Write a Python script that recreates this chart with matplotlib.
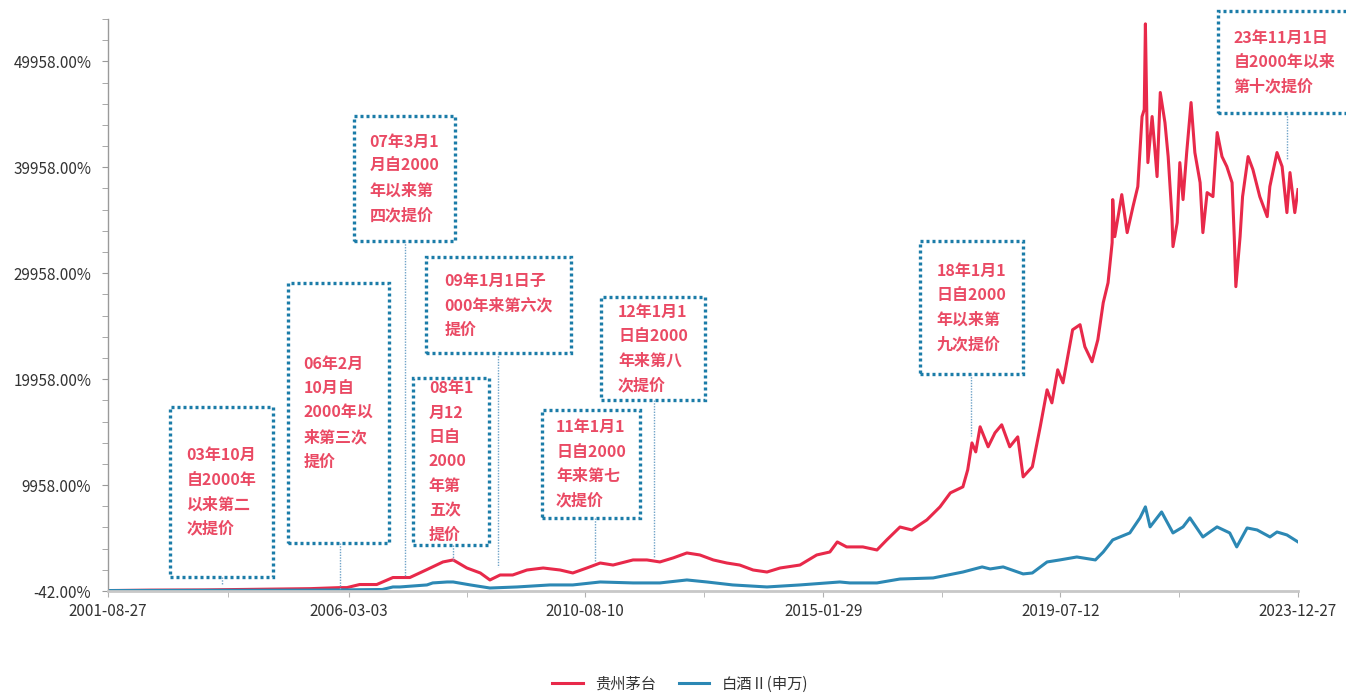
import matplotlib

matplotlib.use("Agg")
import matplotlib.pyplot as plt
import numpy as np
import pandas as pd
from matplotlib.lines import Line2D
from matplotlib.patches import Rectangle

plt.rcParams["font.family"] = ["Noto Sans CJK SC", "DejaVu Sans"]

W, H = 1346, 694
RED = "#E8294A"
BLUE = "#2C88B4"
TXT = "#EA4A64"
BOX = "#1B7CA8"
FG = "#333333"

# 贵州茅台 cumulative return (%)
red_dates = [
    "2001-08-27", "2002-06-15", "2003-06-15", "2004-06-15", "2005-06-15",
    "2006-01-05", "2006-02-20", "2006-05-18", "2006-09-12", "2007-01-01",
    "2007-04-27", "2007-08-22", "2007-12-10", "2008-02-18", "2008-05-22",
    "2008-08-22", "2008-10-27", "2009-01-05", "2009-04-01", "2009-07-08",
    "2009-10-27", "2010-02-20", "2010-05-18", "2010-08-22", "2010-11-22",
    "2011-02-18", "2011-07-05", "2011-10-08", "2012-01-05", "2012-04-05",
    "2012-07-08", "2012-10-05", "2013-01-05", "2013-04-08", "2013-07-05",
    "2013-10-05", "2014-01-08", "2014-04-08", "2014-08-22", "2014-12-15",
    "2015-03-15", "2015-05-05", "2015-07-08", "2015-10-27", "2016-02-01",
    "2016-04-08", "2016-07-08", "2016-09-27", "2017-01-08", "2017-04-08",
    "2017-06-18", "2017-09-12", "2017-10-15", "2017-11-13", "2017-12-09",
    "2018-01-08", "2018-03-04", "2018-04-20", "2018-06-05", "2018-07-30",
    "2018-09-23", "2018-10-30", "2019-01-01", "2019-02-24", "2019-04-12",
    "2019-05-15", "2019-06-24", "2019-07-30", "2019-10-04", "2019-11-24",
    "2019-12-27", "2020-02-14", "2020-03-25", "2020-05-01", "2020-06-03",
    "2020-07-01", "2020-07-05", "2020-07-19", "2020-09-05", "2020-10-12",
    "2020-11-21", "2020-12-24", "2021-01-22", "2021-02-06", "2021-02-14",
    "2021-02-24", "2021-03-03", "2021-04-01", "2021-04-20", "2021-05-05",
    "2021-05-27", "2021-06-28", "2021-07-20", "2021-08-15", "2021-08-22",
    "2021-09-20", "2021-10-08", "2021-10-30", "2021-11-24", "2021-12-24",
    "2022-01-19", "2022-02-24", "2022-03-15", "2022-04-13", "2022-05-23",
    "2022-06-21", "2022-07-24", "2022-08-26", "2022-10-01", "2022-10-16",
    "2022-10-27", "2022-11-25", "2022-12-12", "2023-01-19", "2023-02-21",
    "2023-04-09", "2023-05-30", "2023-06-17", "2023-08-05", "2023-09-09",
    "2023-10-12", "2023-11-02", "2023-12-05", "2023-12-27",
]
red_vals = [
    0, 40, 60, 120, 180,
    280, 280, 570, 570, 1230,
    1230, 1980, 2700, 2890, 2130,
    1660, 1000, 1470, 1470, 1940,
    2130, 1940, 1660, 2130, 2600,
    2410, 2890, 2890, 2700, 3080,
    3550, 3360, 2890, 2600, 2410,
    1940, 1750, 2130, 2410, 3360,
    3640, 4590, 4120, 4120, 3830,
    4780, 6000, 5720, 6670, 7900,
    9220, 9790, 11400, 13940, 13090,
    15460, 13570, 14890, 15650, 13570,
    14510, 10730, 11680, 15460, 18950,
    17720, 20840, 19610, 24620, 25100,
    23020, 21600, 23680, 27180, 29060,
    32840, 36910, 33410, 37380, 33790,
    36250, 38140, 44750, 45410, 53500,
    44750, 40400, 44750, 41630, 39080,
    47020, 44180, 40970, 35300, 32470,
    34740, 40400, 36910, 41350, 46070,
    41350, 38510, 33790, 37570, 37190,
    43240, 40970, 40030, 38510, 33410,
    28690, 33410, 37190, 40970, 39740,
    37190, 35300, 38140, 41350, 40030,
    35680, 39460, 35680, 37850,
]

# 白酒Ⅱ(申万) cumulative return (%)
blue_dates = [
    "2001-08-27", "2003-06-15", "2005-06-15", "2006-01-05", "2006-10-20",
    "2007-01-01", "2007-02-18", "2007-08-22", "2007-10-01", "2008-01-08",
    "2008-02-18", "2008-06-15", "2008-10-27", "2009-05-01", "2009-12-12",
    "2010-05-18", "2010-11-22", "2011-07-05", "2012-01-05", "2012-07-08",
    "2012-11-22", "2013-05-18", "2014-01-08", "2014-08-22", "2015-05-22",
    "2015-07-30", "2016-02-01", "2016-07-08", "2017-02-20", "2017-09-12",
    "2018-01-22", "2018-03-18", "2018-06-15", "2018-10-30", "2019-01-01",
    "2019-04-12", "2019-07-08", "2019-11-02", "2020-03-08", "2020-05-01",
    "2020-07-05", "2020-10-30", "2021-01-08", "2021-02-14", "2021-03-18",
    "2021-06-05", "2021-08-22", "2021-10-30", "2021-12-16", "2022-03-15",
    "2022-06-20", "2022-09-15", "2022-11-02", "2023-01-12", "2023-03-22",
    "2023-06-18", "2023-08-05", "2023-10-12", "2023-12-27",
]
blue_vals = [
    0, 20, 40, 60, 100,
    340, 340, 530, 720, 810,
    810, 530, 240, 340, 530,
    530, 810, 720, 720, 1000,
    810, 530, 340, 530, 810,
    720, 720, 1090, 1190, 1750,
    2230, 2040, 2230, 1570, 1660,
    2700, 2890, 3170, 2890, 3640,
    4780, 5440, 6860, 7900, 6010,
    7420, 5440, 6010, 6860, 5060,
    6010, 5440, 4120, 5910, 5720,
    5060, 5530, 5250, 4590,
]

x_labels = ["2001-08-27", "2006-03-03", "2010-08-10", "2015-01-29",
            "2019-07-12", "2023-12-27"]
y_ticks = [-42, 9958, 19958, 29958, 39958, 49958]

# annotation boxes in pixel space: box (x0, y0, x1, y1), connector (x, y0, y1)
notes = [
    ("03年10月\n自2000年\n以来第二\n次提价", (170, 407, 273, 577), (222, 577, 584)),
    ("06年2月\n10月自\n2000年以\n来第三次\n提价", (288, 283, 389, 543), (340, 543, 589)),
    ("07年3月1\n月自2000\n年以来第\n四次提价", (354, 116, 455, 241), (405, 241, 577)),
    ("08年1\n月12\n日自\n2000\n年第\n五次\n提价", (413, 378, 489, 545), (453, 545, 560)),
    ("09年1月1日子\n000年来第六次\n提价", (426, 257, 571, 353), (498, 353, 567)),
    ("11年1月1\n日自2000\n年来第七\n次提价", (542, 410, 640, 518), (595, 518, 561)),
    ("12年1月1\n日自2000\n年来第八\n次提价", (601, 297, 705, 400), (654, 400, 557)),
    ("18年1月1\n日自2000\n年以来第\n九次提价", (920, 241, 1023, 374), (971, 374, 436)),
    ("23年11月1日\n自2000年以来\n第十次提价", (1218, 11, 1351, 113), (1287, 113, 159)),
]


def fx(px):
    return px / W


def fy(py):
    return 1 - py / H


fig = plt.figure(figsize=(W / 100, H / 100), dpi=100, facecolor="white")
ax = fig.add_axes([fx(108), fy(591), (1298 - 108) / W, (591 - 19) / H])

rd = pd.to_datetime(red_dates)
bd = pd.to_datetime(blue_dates)
ax.plot(rd, red_vals, color=RED, lw=2.2, label="贵州茅台")
ax.plot(bd, blue_vals, color=BLUE, lw=2.2, label="白酒Ⅱ(申万)")

xt = pd.to_datetime(x_labels)
ax.set_xlim(xt[0], xt[-1])
ax.set_ylim(-42, 53958)
ax.set_xticks(xt)
ax.set_xticklabels(x_labels, fontsize=11, color=FG)
mids = xt[:-1] + (xt[1:] - xt[:-1]) / 2
ax.set_xticks(mids, minor=True)
ax.set_yticks(y_ticks)
ax.set_yticklabels([f"{v:.2f}%" for v in y_ticks], fontsize=11, color=FG)
ax.set_yticks(np.arange(-42, 53959, 2000), minor=True)

for s in ("top", "right"):
    ax.spines[s].set_visible(False)
ax.spines["left"].set_color("#9a9a9a")
ax.spines["left"].set_linewidth(1.0)
ax.spines["bottom"].set_color("#c8c8c8")
ax.spines["bottom"].set_linewidth(2.0)
ax.tick_params(axis="y", which="both", direction="out", length=4, color="#9a9a9a", pad=8)
ax.tick_params(axis="x", which="both", direction="out", length=4, color="#b0b0b0", pad=5)

for text, (x0, y0, x1, y1), (lx, ly0, ly1) in notes:
    fig.add_artist(Line2D([fx(lx), fx(lx)], [fy(ly0), fy(ly1)], color="#6fa3c7",
                          lw=1.0, ls=(0, (1, 1))))
    fig.add_artist(Rectangle((fx(x0), fy(y1)), fx(x1) - fx(x0), fy(y0) - fy(y1),
                             fill=True, facecolor="white", edgecolor=BOX, lw=2.4,
                             ls=(0, (0.9, 0.9)), transform=fig.transFigure))
    fig.text(fx((x0 + x1) / 2), fy((y0 + y1) / 2), text, ha="center", va="center",
             multialignment="left", color=TXT, fontsize=11.5, linespacing=1.65,
             fontweight="bold")

fig.legend(loc="center", bbox_to_anchor=(fx(680), fy(684)), ncol=2, frameon=False,
           fontsize=11, handlelength=2.0, columnspacing=1.5, labelcolor=FG)

fig.savefig("out.png", dpi=100, facecolor="white")
